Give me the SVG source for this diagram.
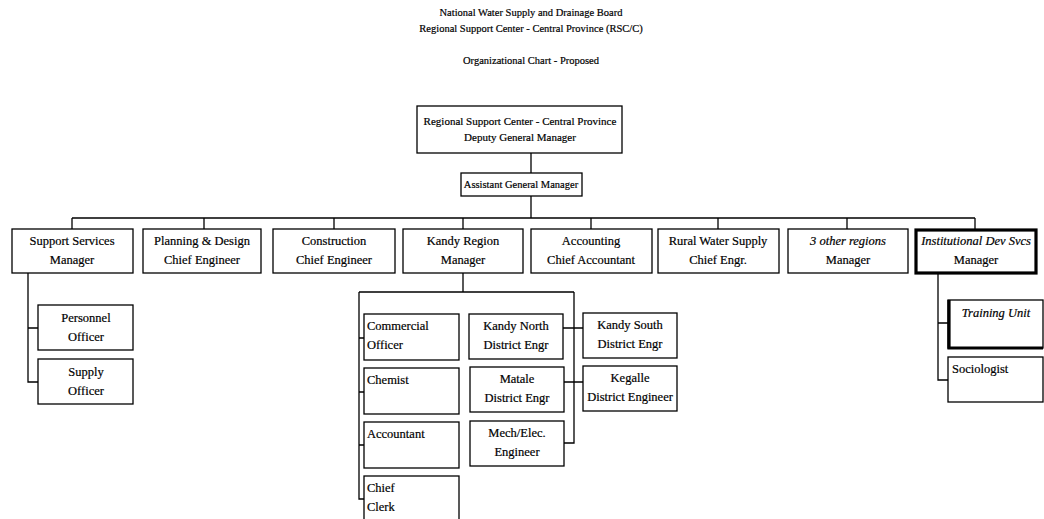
<svg xmlns="http://www.w3.org/2000/svg" width="1044" height="519" viewBox="0 0 1044 519">
<style>
text{font-family:"Liberation Serif","Times New Roman",serif;font-size:12.5px;fill:#000;stroke:#000;stroke-width:0.2}
.c{text-anchor:middle}
.i{font-style:italic}
.s{font-size:10.5px}
.m{font-size:11px}
.b{fill:#fff;stroke:#000;stroke-width:1.3}
.t{fill:#fff;stroke:#000;stroke-width:3.2}
.l{fill:none;stroke:#000;stroke-width:1.3}
</style>
<rect width="1044" height="519" fill="#fff"/>
<g id="title">
<text class="c s" x="531" y="16">National Water Supply and Drainage Board</text>
<text class="c s" x="531" y="32">Regional Support Center - Central Province (RSC/C)</text>
<text class="c s" x="531" y="64">Organizational Chart - Proposed</text>
</g>
<g id="connectors">
<path class="l" d="M531 153V173M531 196V218M72 218H975M72 218V229M204 218V229M334 218V229M463 218V229M591 218V229M718 218V229M847 218V229M975 218V229"/>
<path class="l" d="M28 273V382H38M28 328H38"/>
<path class="l" d="M463 273V292M359 292H574M359 292V499H364M359 338H364M359 392H364M359 445H364"/>
<path class="l" d="M574 292V443H564M563 328H583M564 382H583"/>
<path class="l" d="M938 273V380H948M938 323H948"/>
</g>
<g id="dgm"><rect class="b" x="417" y="106" width="205" height="47"/><text class="c m" x="520" y="125">Regional Support Center - Central Province</text><text class="c m" x="520" y="141">Deputy General Manager</text></g>
<g id="agm"><rect class="b" x="461" y="173" width="121" height="23"/><text class="c s" x="521" y="188">Assistant General Manager</text></g>
<g id="support"><rect class="b" x="12" y="229" width="121" height="44"/><text class="c" x="72" y="245">Support Services</text><text class="c" x="72" y="264">Manager</text></g>
<g id="planning"><rect class="b" x="143" y="229" width="118" height="44"/><text class="c" x="202" y="245">Planning &amp; Design</text><text class="c" x="202" y="264">Chief Engineer</text></g>
<g id="construction"><rect class="b" x="273" y="229" width="122" height="44"/><text class="c" x="334" y="245">Construction</text><text class="c" x="334" y="264">Chief Engineer</text></g>
<g id="kandy"><rect class="b" x="403" y="229" width="120" height="44"/><text class="c" x="463" y="245">Kandy Region</text><text class="c" x="463" y="264">Manager</text></g>
<g id="accounting"><rect class="b" x="531" y="229" width="121" height="44"/><text class="c" x="591" y="245">Accounting</text><text class="c" x="591" y="264">Chief Accountant</text></g>
<g id="rural"><rect class="b" x="658" y="229" width="121" height="44"/><text class="c" x="718" y="245">Rural Water Supply</text><text class="c" x="718" y="264">Chief Engr.</text></g>
<g id="other"><rect class="b" x="788" y="229" width="120" height="44"/><text class="c i" x="848" y="245">3 other regions</text><text class="c" x="848" y="264">Manager</text></g>
<g id="institutional"><rect class="t" x="916" y="230" width="120" height="43"/><text class="c i" x="976" y="245">Institutional Dev Svcs</text><text class="c" x="976" y="264">Manager</text></g>
<g id="personnel"><rect class="b" x="38" y="305" width="95" height="45"/><text class="c" x="86" y="322">Personnel</text><text class="c" x="86" y="341">Officer</text></g>
<g id="supply"><rect class="b" x="38" y="359" width="95" height="45"/><text class="c" x="86" y="376">Supply</text><text class="c" x="86" y="395">Officer</text></g>
<g id="commercial"><rect class="b" x="364" y="314" width="95" height="46"/><text x="367" y="330">Commercial</text><text x="367" y="349">Officer</text></g>
<g id="chemist"><rect class="b" x="364" y="368" width="95" height="46"/><text x="367" y="384">Chemist</text></g>
<g id="accountant"><rect class="b" x="364" y="422" width="95" height="46"/><text x="367" y="438">Accountant</text></g>
<g id="clerk"><rect class="b" x="364" y="476" width="95" height="50"/><text x="367" y="492">Chief</text><text x="367" y="511">Clerk</text></g>
<g id="kandynorth"><rect class="b" x="469" y="314" width="94" height="45"/><text class="c" x="516" y="330">Kandy North</text><text class="c" x="516" y="349">District Engr</text></g>
<g id="matale"><rect class="b" x="470" y="367" width="94" height="45"/><text class="c" x="517" y="383">Matale</text><text class="c" x="517" y="402">District Engr</text></g>
<g id="mech"><rect class="b" x="470" y="421" width="94" height="45"/><text class="c" x="517" y="437">Mech/Elec.</text><text class="c" x="517" y="456">Engineer</text></g>
<g id="kandysouth"><rect class="b" x="583" y="313" width="94" height="45"/><text class="c" x="630" y="329">Kandy South</text><text class="c" x="630" y="348">District Engr</text></g>
<g id="kegalle"><rect class="b" x="583" y="366" width="94" height="45"/><text class="c" x="630" y="382">Kegalle</text><text class="c" x="630" y="401">District Engineer</text></g>
<g id="training"><rect class="b" x="948" y="300" width="95" height="48"/><path class="l" d="M949 300V348H1043" style="stroke-width:3.2"/><text class="c i" x="996" y="317">Training Unit</text></g>
<g id="sociologist"><rect class="b" x="948" y="357" width="95" height="45"/><text x="952" y="373">Sociologist</text></g>
</svg>
